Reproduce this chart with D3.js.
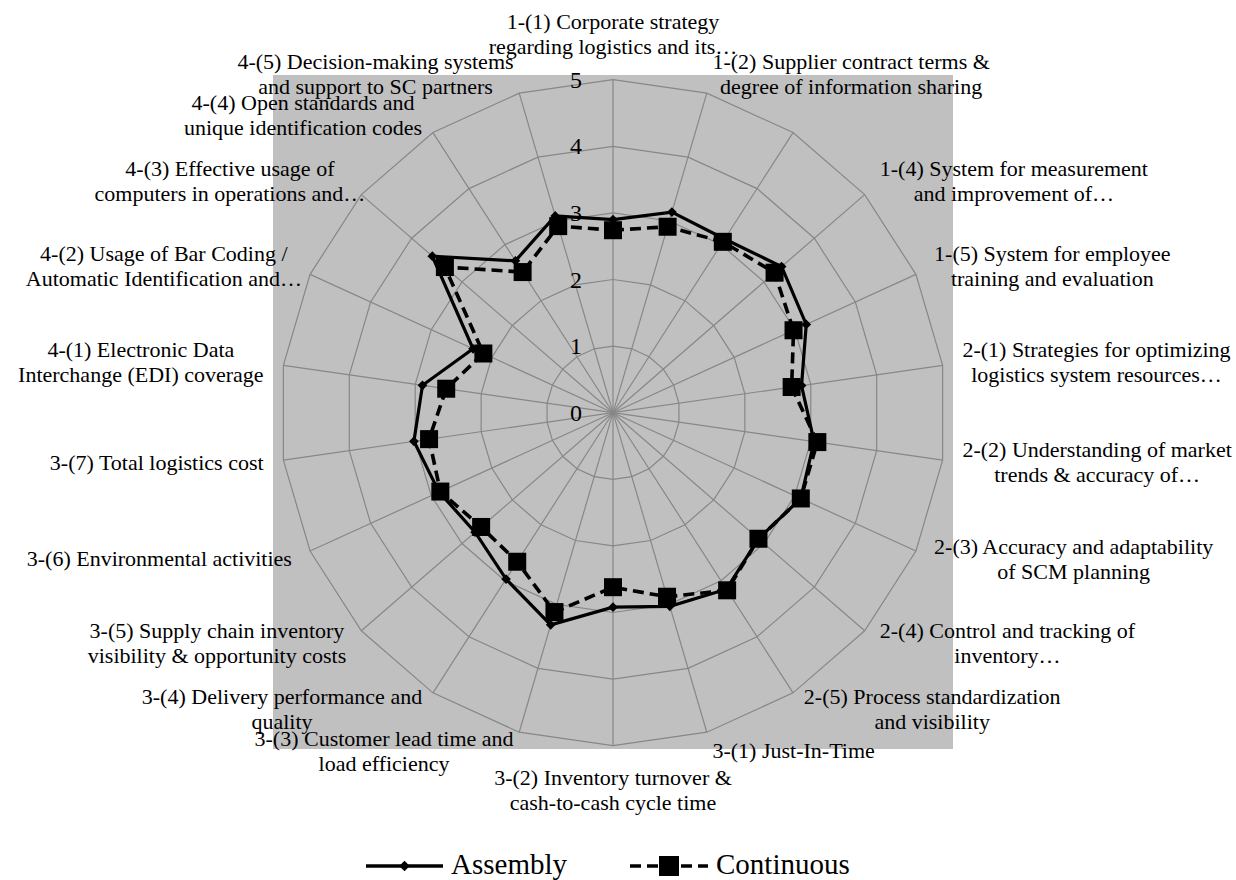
<!DOCTYPE html>
<html><head><meta charset="utf-8">
<script src="https://cdn.jsdelivr.net/npm/d3@7/dist/d3.min.js"></script>
<style>
svg text, svg tspan { font-family: "Liberation Serif" !important; }
</style>
</head><body style="margin:0">
<svg id="chart" width="1236" height="880"></svg>
<script>
// ---------- data ----------
const categories = ["1-(1)","1-(2)","1-(3)","1-(4)","1-(5)","2-(1)","2-(2)","2-(3)","2-(4)","2-(5)",
  "3-(1)","3-(2)","3-(3)","3-(4)","3-(5)","3-(6)","3-(7)","4-(1)","4-(2)","4-(3)","4-(4)","4-(5)"];
const categoryLabels = [
  ["1-(1) Corporate strategy","regarding logistics and its…"],
  ["1-(2) Supplier contract terms &","degree of information sharing"],
  [],
  ["1-(4) System for measurement","and improvement of…"],
  ["1-(5) System for employee","training and evaluation"],
  ["2-(1) Strategies for optimizing","logistics system resources…"],
  ["2-(2) Understanding of market","trends & accuracy of…"],
  ["2-(3) Accuracy and adaptability","of SCM planning"],
  ["2-(4) Control and tracking of","inventory…"],
  ["2-(5) Process standardization","and visibility"],
  ["3-(1) Just-In-Time"],
  ["3-(2) Inventory turnover &","cash-to-cash cycle time"],
  ["3-(3) Customer lead time and","load efficiency"],
  ["3-(4) Delivery performance and","quality"],
  ["3-(5) Supply chain inventory","visibility & opportunity costs"],
  ["3-(6) Environmental activities"],
  ["3-(7) Total logistics cost"],
  ["4-(1) Electronic Data","Interchange (EDI) coverage"],
  ["4-(2) Usage of Bar Coding /","Automatic Identification and…"],
  ["4-(3) Effective usage of","computers in operations and…"],
  ["4-(4) Open standards and","unique identification codes"],
  ["4-(5) Decision-making systems","and support to SC partners"]
];
const assembly   = [2.90,3.14,3.10,3.35,3.19,2.86,3.05,3.10,2.89,3.15,3.03,2.92,3.32,2.97,2.74,2.87,3.02,2.89,2.31,3.59,2.71,3.08];
const continuous = [2.74,2.91,3.05,3.21,2.98,2.71,3.10,3.10,2.89,3.17,2.88,2.62,3.12,2.66,2.62,2.85,2.79,2.53,2.14,3.34,2.51,2.92];
const tickValues = [0,1,2,3,4,5];
const seriesNames = ["Assembly","Continuous"];

// ---------- layout ----------
const FONT = '"Liberation Serif"';
function serif(sel){ sel.each(function(){ this.style.setProperty("font-family", FONT, "important"); }); return sel; }
const cx = 613, cy = 412.7, R = 333;
const labelShift = {18: 10, 19: 19}; // small horizontal nudges as in the original layout
const svg = d3.select("#chart");
const n = categories.length;
const rScale = d3.scaleLinear().domain([0,5]).range([0,R]);
const aScale = d3.scaleLinear().domain([0,n]).range([0,2*Math.PI]);

svg.append("rect").attr("x",273).attr("y",75).attr("width",680).attr("height",674).attr("fill","#c0c0c0");

const g = svg.append("g").attr("transform",`translate(${cx},${cy})`);
const gridColor = "#878787";

// rings
const ring = d3.lineRadial().angle((d,i)=>aScale(i)).radius(d=>rScale(d)).curve(d3.curveLinearClosed);
tickValues.filter(t=>t>0).forEach(t=>{
  g.append("path").attr("d", ring(categories.map(()=>t))).attr("fill","none").attr("stroke",gridColor).attr("stroke-width",1.2);
});
// spokes
categories.forEach((d,i)=>{
  g.append("line").attr("x1",0).attr("y1",0)
   .attr("x2",rScale(5)*Math.sin(aScale(i))).attr("y2",-rScale(5)*Math.cos(aScale(i)))
   .attr("stroke",gridColor).attr("stroke-width",1.2);
});

// tick labels
tickValues.forEach(v=>{
  serif(g.append("text").attr("x",-31).attr("y",-rScale(v)+8)
   .attr("font-size",24).attr("text-anchor","end").text(String(v)));
});

// category labels
const fs = 22, lh = 25;
categoryLabels.forEach((lines,i)=>{
  if(!lines.length) return;
  const a = aScale(i), s = Math.sin(a), c = Math.cos(a);
  const ay = -(R+20)*c;
  const h = lines.length*lh;
  let top;
  if (Math.abs(s) <= 0.05) top = c > 0 ? ay - h : ay; else top = ay - h/2;
  lines.forEach((l,k)=>{
    serif(g.append("text").attr("class","cat").attr("data-i",i)
      .attr("y", top + lh*k + lh/2 + 7)
      .attr("font-size",fs).attr("text-anchor","middle").text(l));
  });
});
// place each label block horizontally from its measured width
function placeLabels(){
  categoryLabels.forEach((lines,i)=>{
    if(!lines.length) return;
    const a = aScale(i), s = Math.sin(a);
    const ax = (R+20)*s;
    const els = g.selectAll(`text.cat[data-i="${i}"]`);
    let w = 0; els.each(function(){ w = Math.max(w, this.getComputedTextLength()); });
    let bx = Math.abs(s) <= 0.05 ? ax : (s > 0 ? ax + w/2 : ax - w/2);
    bx += (labelShift[i]||0);
    els.attr("x", bx);
  });
}

// series
const line = d3.lineRadial().angle((d,i)=>aScale(i)).radius(d=>rScale(d)).curve(d3.curveLinearClosed);
function pt(v,i){ return [rScale(v)*Math.sin(aScale(i)), -rScale(v)*Math.cos(aScale(i))]; }

g.append("path").attr("d",line(assembly)).attr("fill","none").attr("stroke","#000").attr("stroke-width",3.2);
assembly.forEach((d,i)=>{
  g.append("path").attr("d",d3.symbol().type(d3.symbolDiamond2).size(60)).attr("transform",`translate(${pt(d,i)})`).attr("fill","#000");
});
g.append("path").attr("d",line(continuous)).attr("fill","none").attr("stroke","#000").attr("stroke-width",3.6).attr("stroke-dasharray","11,6");
continuous.forEach((d,i)=>{
  const p = pt(d,i);
  g.append("rect").attr("x",p[0]-9).attr("y",p[1]-9).attr("width",18).attr("height",18).attr("fill","#000");
});

// legend
const ly = 866;
const legItems = [{name:seriesNames[0], x0:366, x1:443, dash:null, marker:"diamond"},
                  {name:seriesNames[1], x0:630, x1:708, dash:"11,6", marker:"square"}];
legItems.forEach(it=>{
  svg.append("line").attr("x1",it.x0).attr("x2",it.x1).attr("y1",ly).attr("y2",ly)
    .attr("stroke","#000").attr("stroke-width",3.6).attr("stroke-dasharray",it.dash);
  const mx = (it.x0+it.x1)/2;
  if(it.marker==="diamond") svg.append("path").attr("d",d3.symbol().type(d3.symbolDiamond2).size(70)).attr("transform",`translate(${mx},${ly})`);
  else svg.append("rect").attr("x",mx-10).attr("y",ly-10).attr("width",20).attr("height",20);
  serif(svg.append("text").attr("x",it.x1+8).attr("y",874).attr("font-size",29).text(it.name));
});

placeLabels();
if (document.fonts && document.fonts.ready) document.fonts.ready.then(placeLabels);
</script>
</body></html>
